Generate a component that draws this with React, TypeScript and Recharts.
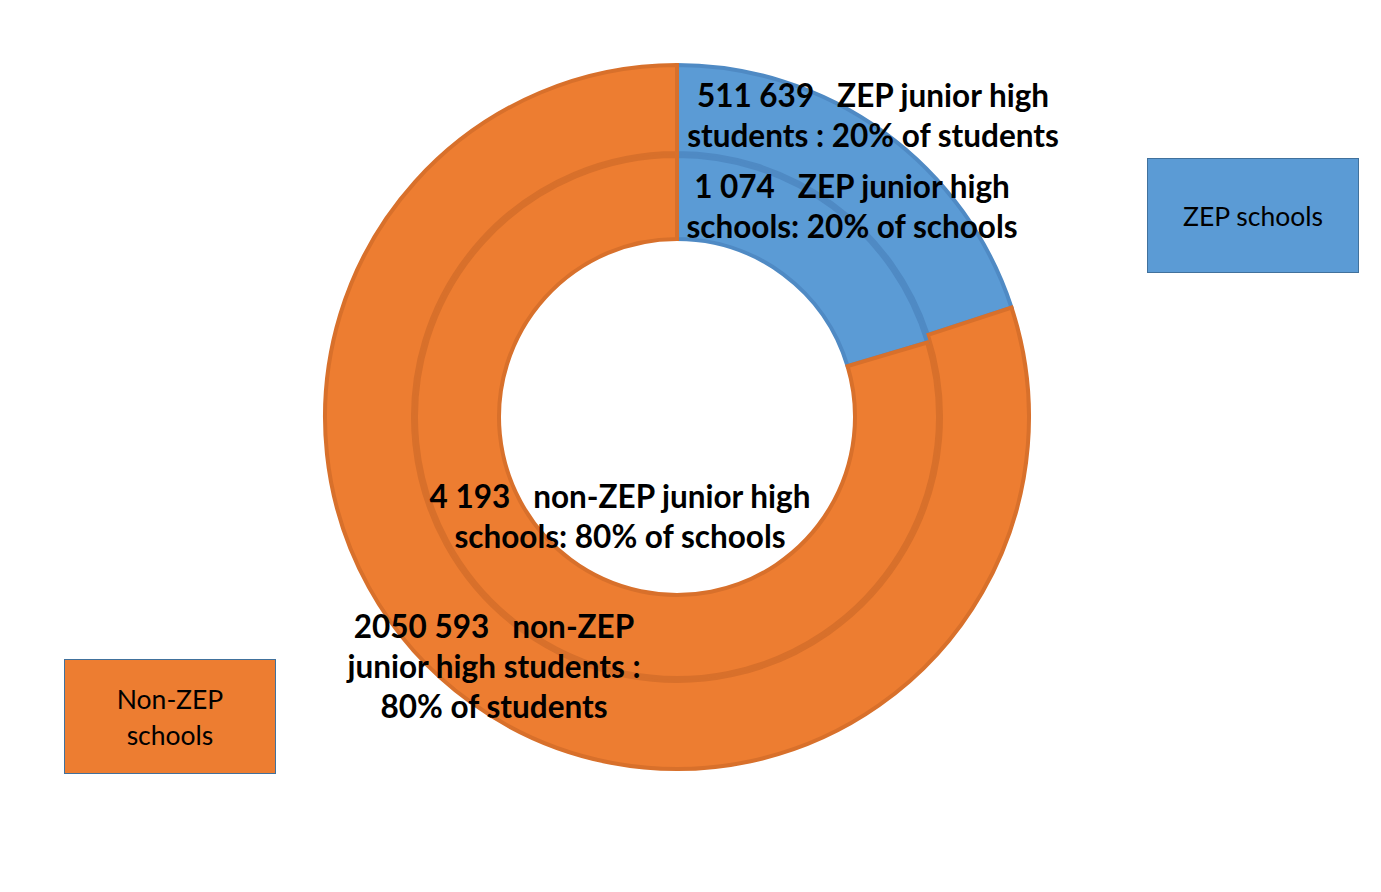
import React from 'react';
import { PieChart, Pie, Cell } from 'recharts';

// ---- data ----
const categories = ['ZEP schools', 'Non-ZEP schools'];
const legendLines = [['ZEP schools'], ['Non-ZEP', 'schools']];
const studentCounts = [511639, 2050593];
const schoolCounts = [1074, 4193];
const studentLabels = [
  ['511 639   ZEP junior high', 'students : 20% of students'],
  ['2050 593   non-ZEP', 'junior high students :', '80% of students'],
];
const schoolLabels = [
  ['1 074   ZEP junior high', 'schools: 20% of schools'],
  ['4 193   non-ZEP junior high', 'schools: 80% of schools'],
];

// ---- styles / layout ----
const FILLS = ['#5b9bd5', '#ed7d31'];
const STROKES = ['#4f8ac4', '#d8702b'];
const FONT = 'Lato, "Open Sans", sans-serif';
const studentLabelPos = [
  { dx: 196, dy: -322 },
  { dx: -183, dy: 209 },
];
const schoolLabelPos = [
  { dx: 175, dy: -231 },
  { dx: -57, dy: 79 },
];
const LINE = 40;

const studentData = categories.map((c, i) => ({ name: c, value: studentCounts[i] }));
const schoolData = categories.map((c, i) => ({ name: c, value: schoolCounts[i] }));

const makeLabel = (lines: string[][], pos: { dx: number; dy: number }[]) => (props: any) => {
  const { cx, cy, index } = props;
  const l = lines[index];
  const p = pos[index];
  const x = cx + p.dx;
  return (
    <text
      x={x}
      y={cy + p.dy}
      textAnchor="middle"
      dominantBaseline="central"
      fill="#000"
      fontFamily={FONT}
      fontWeight={700}
      fontSize={31.5}
      style={{ whiteSpace: 'pre' }}
    >
      {l.map((s, i) => (
        <tspan key={i} x={x} dy={i === 0 ? 0 : LINE} style={{ whiteSpace: 'pre' }}>
          {s}
        </tspan>
      ))}
    </text>
  );
};

const CX = 669;
const CY = 409;
const M = { top: 0, right: 0, bottom: 0, left: 0 };

export default function App() {
  return (
    <div
      style={{
        position: 'relative',
        width: 1370,
        height: 880,
        marginLeft: -2,
        marginTop: -2,
        borderTop: '2px solid #cfcfcf',
        borderLeft: '2px solid #cfcfcf',
        fontFamily: FONT,
      }}
    >
      <div style={{ position: 'absolute', left: 0, top: 0 }}>
        <PieChart width={1370} height={880} margin={M}>
          <Pie
            data={studentData}
            dataKey="value"
            nameKey="name"
            cx={CX}
            cy={CY}
            innerRadius={264}
            outerRadius={352}
            startAngle={90}
            endAngle={-270}
            strokeWidth={4}
            isAnimationActive={false}
            label={false}
            labelLine={false}
            legendType="none"
          >
            {studentData.map((d, i) => (
              <Cell key={d.name} fill={FILLS[i]} stroke={STROKES[i]} />
            ))}
          </Pie>
          <Pie
            data={schoolData}
            dataKey="value"
            nameKey="name"
            cx={CX}
            cy={CY}
            innerRadius={178}
            outerRadius={261}
            startAngle={90}
            endAngle={-270}
            strokeWidth={4}
            isAnimationActive={false}
            label={false}
            labelLine={false}
            legendType="none"
          >
            {schoolData.map((d, i) => (
              <Cell key={d.name} fill={FILLS[i]} stroke={STROKES[i]} />
            ))}
          </Pie>
          <Pie
            data={studentData}
            dataKey="value"
            cx={CX}
            cy={CY}
            innerRadius={264}
            outerRadius={352}
            startAngle={90}
            endAngle={-270}
            fill="none"
            stroke="none"
            isAnimationActive={false}
            label={makeLabel(studentLabels, studentLabelPos)}
            labelLine={false}
            legendType="none"
          />
          <Pie
            data={schoolData}
            dataKey="value"
            cx={CX}
            cy={CY}
            innerRadius={178}
            outerRadius={261}
            startAngle={90}
            endAngle={-270}
            fill="none"
            stroke="none"
            isAnimationActive={false}
            label={makeLabel(schoolLabels, schoolLabelPos)}
            labelLine={false}
            legendType="none"
          />
        </PieChart>
      </div>
      {/* legend boxes */}
      {[
        { left: 1139, top: 150, i: 0 },
        { left: 56, top: 651, i: 1 },
      ].map(({ left, top, i }) => (
        <div
          key={categories[i]}
          style={{
            position: 'absolute',
            left,
            top,
            width: 212,
            height: 115,
            boxSizing: 'border-box',
            background: FILLS[i],
            border: '1.5px solid #41719c',
            display: 'flex',
            flexDirection: 'column',
            alignItems: 'center',
            justifyContent: 'center',
            fontFamily: FONT,
            fontSize: 26.5,
            lineHeight: '36px',
            color: '#000',
          }}
        >
          {legendLines[i].map((s) => (
            <div key={s}>{s}</div>
          ))}
        </div>
      ))}
    </div>
  );
}
